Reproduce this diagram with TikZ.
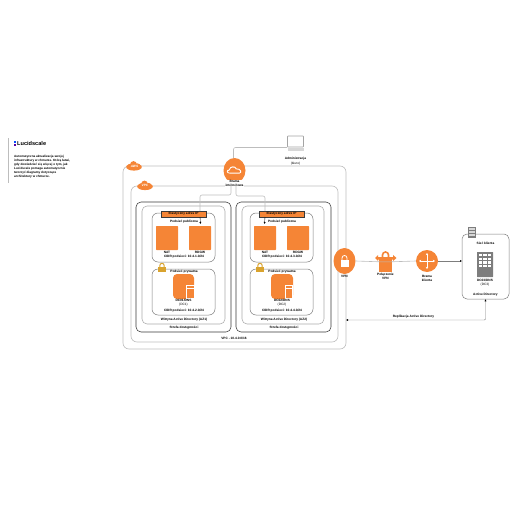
\documentclass[tikz,border=0pt]{standalone}
\usepackage{fontspec}
\setmainfont{Liberation Sans}
\usetikzlibrary{arrows.meta,shapes.geometric}
\definecolor{awsor}{HTML}{F58536}
\definecolor{ln}{HTML}{BDBDBD}
\definecolor{dk}{HTML}{3A3A3A}
\definecolor{gy}{HTML}{7D7D7D}
\definecolor{lockc}{HTML}{D9A32E}
\tikzset{
 txt/.style={font=\fontsize{3.2}{3.9}\selectfont,text=black,inner sep=0pt,align=center},
 btxt/.style={txt,font=\fontsize{3.2}{3.9}\selectfont\bfseries},
 awsbox/.style={draw=ln,line width=.6pt,rounded corners=6pt,inner sep=0pt},
 azbox/.style={draw=dk,line width=.55pt,rounded corners=5pt,inner sep=0pt},
 adbox/.style={draw=ln!90!black,line width=.55pt,rounded corners=5pt,inner sep=0pt},
 subbox/.style={draw=gy,line width=.5pt,rounded corners=6pt,inner sep=0pt},
 orsq/.style={fill=awsor,inner sep=0pt,rounded corners=.6pt},
 bar/.style={fill=awsor,draw=dk,line width=.3pt,inner sep=0pt,text=black,font=\fontsize{3.2}{3.9}\selectfont\bfseries},
 circ/.style={ellipse,fill=awsor,inner sep=0pt},
 wire/.style={draw=ln,line width=.6pt,rounded corners=2pt},
 thinwire/.style={draw=gy,line width=.4pt,rounded corners=1pt},
 tip/.style={-{Latex[length=2pt,width=2pt,black]}},
}
\newcommand{\badgecloud}[2]{%
 \fill[awsor] (#1,#2) ellipse[x radius=7.8,y radius=3.6];
 \fill[awsor] (#1-.5,#2-2.5) circle[radius=3.4];
 \fill[awsor] (#1-4,#2-.5) circle[radius=2.6];
 \fill[awsor] (#1+3.5,#2-.6) circle[radius=3];
}
\begin{document}
\begin{tikzpicture}[x=1pt,y=-1pt]
\useasboundingbox (0,0) rectangle (516,516);
% info panel
\coordinate (panelT) at (8,138); \coordinate (panelB) at (8,183);
\draw[ln,line width=.5pt] (panelT) -- (panelB);
\fill[blue!70!cyan] (14,140.5) rectangle (16,142.5);
\fill[violet!70!blue] (14,143.5) rectangle (16,146);
\node[anchor=west,inner sep=0pt,font=\fontsize{5.6}{6}\selectfont\bfseries] (logo) at (17,143.5) {Lucidscale};
\node[anchor=north west,inner sep=0pt,align=left,font=\fontsize{3.1}{3.95}\selectfont\bfseries] (info) at (14,155)
 {Automatyczna aktualizacja swojej\\infrastruktury w chmurze. Którą łatwi,\\gdy dowiedzieć się więcej o tym, jak\\Lucidscale pomaga automatycznie\\tworzyć diagramy dotyczące\\architektury w chmurze.};
% containers
\node[awsbox,minimum width=223pt,minimum height=183pt] (aws) at (234.5,257.5) {};
\node[awsbox,minimum width=207pt,minimum height=156pt] (vpc) at (234.5,264) {};
\node[azbox,minimum width=95pt,minimum height=130pt] (azL) at (183.5,267) {};
\node[azbox,minimum width=95pt,minimum height=130pt] (azR) at (283.5,267) {};
\node[adbox,minimum width=83pt,minimum height=118pt] (adL) at (183.5,265) {};
\node[adbox,minimum width=82pt,minimum height=118pt] (adR) at (283,265) {};
\node[subbox,minimum width=63pt,minimum height=49pt] (pubL) at (183.5,237.5) {};
\node[subbox,minimum width=63pt,minimum height=49pt] (pubR) at (281.5,237.5) {};
\node[subbox,minimum width=63pt,minimum height=46pt] (privL) at (183.5,292) {};
\node[subbox,minimum width=63pt,minimum height=46pt] (privR) at (281.5,292) {};
% labels of containers
\node[btxt] at (234,338) {VPC - 10.4.0.0/16};
\node[btxt] at (184,327.5) {Strefa dostępności};
\node[btxt] at (284,327.5) {Strefa dostępności};
\node[btxt] at (184,319.5) {Witryna Active Directory (AZ1)};
\node[btxt] at (284,319.5) {Witryna Active Directory (AZ2)};
\node[btxt] (pubLt) at (184,221.5) {Podsieć publiczna};
\node[btxt] (pubRt) at (282,221.5) {Podsieć publiczna};
\node[btxt] at (184,271.5) {Podsieć prywatna};
\node[btxt] at (282,271.5) {Podsieć prywatna};
\node[btxt] at (184,256.5) {CIDR podsieci: 10.4.1.0/24};
\node[btxt] at (282,256.5) {CIDR podsieci: 10.4.3.0/24};
\node[btxt] at (184,310.5) {CIDR podsieci: 10.4.2.0/24};
\node[btxt] at (282,310.5) {CIDR podsieci: 10.4.4.0/24};
% orange servers
\node[orsq,minimum width=22pt,minimum height=24pt] (natL) at (167,238) {};
\node[orsq,minimum width=22pt,minimum height=24pt] (rdL) at (200,238) {};
\node[orsq,minimum width=22pt,minimum height=24pt] (natR) at (265,238) {};
\node[orsq,minimum width=22pt,minimum height=24pt] (rdR) at (298,238) {};
\node[btxt] at (167,252) {NAT};
\node[btxt] at (200,252) {RDGW};
\node[btxt] at (265,252) {NAT};
\node[btxt] at (298,252) {RDGW};
% DB icons
\node[orsq,rounded corners=4pt,minimum width=21pt,minimum height=25pt] (dbL) at (183.5,286.5) {};
\node[orsq,rounded corners=4pt,minimum width=22pt,minimum height=25pt] (dbR) at (282,286.5) {};
\foreach \c in {183.5,282}{
 \draw[white,line width=.4pt,fill=awsor] (\c+3,285) rectangle (\c+10.5,298);
 \draw[white,line width=.4pt] (\c+3,288.5) -- (\c+10.5,288.5);
}
\node[btxt] at (183.5,300.5) {DC01/DNS};
\node[txt] at (183.5,305) {(DC1)};
\node[btxt] at (282,300.5) {DC02/DNS};
\node[txt] at (282,305) {(DC2)};
% bars
\node[bar,minimum width=45pt,minimum height=6pt] (barL) at (183.5,214) {Elastyczny adres IP};
\node[bar,minimum width=45pt,minimum height=6pt] (barR) at (281.5,214) {Elastyczny adres IP};
% locks
\foreach \x in {162,260}{
 \fill[lockc] (\x-3.8,267) rectangle (\x+3.8,272);
 \draw[lockc,line width=1pt] (\x-2.2,267) -- (\x-2.2,265.5) arc[start angle=180,end angle=360,radius=2.2] -- (\x+2.2,267);
}
% AWS / VPC badges
\badgecloud{134}{167}
\node[txt,white,font=\fontsize{3.2}{3.9}\selectfont\bfseries\itshape] at (134.5,166.3) {AWS};
\badgecloud{145}{186.5}
\node[txt,white,font=\fontsize{3.2}{3.9}\selectfont\bfseries\itshape] at (145,185.8) {VPC};
% laptop
\node[draw=gy!70,fill=white,line width=.7pt,rounded corners=.6pt,minimum width=16pt,minimum height=11pt,inner sep=0pt] (lap) at (295.5,141.5) {};
\fill[ln!60] (288,147.5) rectangle (304,150.5);
\coordinate (lapE) at (287,147.5);
\node[btxt] at (295.5,159) {Administracja};
\node[txt] at (295.5,163.5) {(biuro)};
% main gateway nodes
\node[circ,minimum width=22pt,minimum height=25pt] (igw) at (234.5,170.5) {};
\fill[white] (229.5,173.5) .. controls (226,173.5) and (226,169.5) .. (229,169.5) .. controls (229.5,165.5) and (236,165.5) .. (236.5,168.5) .. controls (241,167.5) and (243,173.5) .. (239.5,173.5) -- cycle;
\fill[awsor] (230,172.7) .. controls (227.3,172.7) and (227.3,170.3) .. (229.8,170.3) .. controls (230.3,166.7) and (235.3,166.7) .. (235.8,169.4) .. controls (239.5,168.6) and (241.5,172.7) .. (239,172.7) -- cycle;
\node[btxt,fill=white,inner xsep=.5pt] (igwt) at (234.5,183.5) {Brama\\internetowa};
\node[circ,minimum width=22pt,minimum height=26pt] (vpn) at (344.5,261) {};
\fill[white] (340.5,260) rectangle (348.5,266.5);
\draw[white,line width=.8pt] (342,260) -- (342,258) arc[start angle=180,end angle=360,radius=2.5] -- (347,260);
\node[btxt] (vpnt) at (344.5,276) {VPN};
\node[circ,minimum width=22pt,minimum height=22pt] (cgw) at (427,261) {};
\draw[white,line width=.7pt,{Stealth[length=2.2pt,width=2.6pt]}-{Stealth[length=2.2pt,width=2.6pt]}] (419,261) -- (435,261);
\draw[white,line width=.7pt,{Stealth[length=2.2pt,width=2.6pt]}-{Stealth[length=2.2pt,width=2.6pt]}] (427,253) -- (427,269);
\node[btxt] (cgwt) at (427,278.5) {Brama\\klienta};
% VPN connection icon
\coordinate (conC) at (385.5,262);
\fill[awsor] (379,257) rectangle (392,271.5);
\draw[awsor,line width=1.6pt] (382.5,257) -- (382.5,255) arc[start angle=180,end angle=360,radius=3] -- (388.5,257);
\fill[awsor] (375,258) -- (378,255) -- (378,257) -- (393,257) -- (393,255) -- (396.5,258) -- (393,261) -- (393,259.5) -- (378,259.5) -- (378,261) -- cycle;
\node[btxt] (cont) at (385.5,276.5) {Połączenie\\VPN};
% on-premises
\node[draw=gy,line width=.5pt,rounded corners=5pt,inner sep=0pt,minimum width=47pt,minimum height=65pt] (prem) at (485.5,266.5) {};
\fill[gy] (468,227) rectangle (476,238);
\foreach \i in {0,1,2}\foreach \j in {0,1,2}{\fill[ln!60] (469+\i*2.2,228.2+\j*2.9) rectangle ++(1.5,1.9);}
\node[btxt] at (485.5,243.5) {Sieć klienta};
\node[fill=gy,inner sep=0pt,rounded corners=.4pt,minimum width=16pt,minimum height=25pt] (dc3) at (485,264.5) {};
\foreach \i in {0,1,2}\foreach \j in {0,1,2,3}{\fill[white] (478.8+\i*4.6,254+\j*3.6) rectangle ++(3.4,2.4);}
\node[btxt] at (485,280) {DC03/DNS};
\node[txt] at (485,284.5) {(DC3)};
\node[btxt] at (485.5,294.5) {Active Directory};
% connectors
\draw[wire] (lapE) -- (233.5,147.5) -- (233.5,158);
\draw[wire] (231,183) -- (231,195) -- (200,195) -- (200,211);
\draw[wire] (236,183) -- (236,196) -- (265,196) -- (265,211);
\draw[tip,black,line width=.35pt] (200,217) -- (200.5,224);
\draw[tip,black,line width=.35pt] (265,217) -- (264.5,224);
\draw[wire] (vpn.east) -- (conC) -- (cgw.west);
\draw[thinwire,-{Latex[length=1.8pt,width=1.8pt,black]}] (cgw.east) -- (462,261);
\draw[thinwire,{Latex[length=2pt,width=2pt,black]}-{Latex[length=2pt,width=2pt,black]}] (prem.south) -- (485.5,320) -- (346,320);
\node[btxt,fill=white,inner xsep=.3pt] (rep) at (413.5,317) {Replikacja Active Directory};
\end{tikzpicture}
\end{document}
